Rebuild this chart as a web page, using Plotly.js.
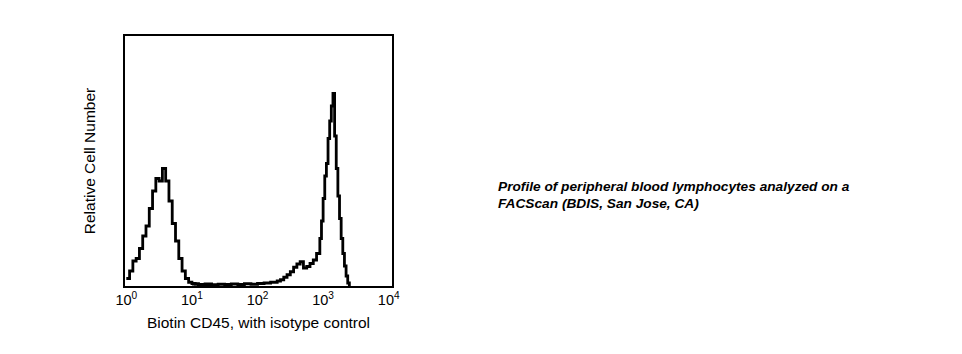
<!DOCTYPE html>
<html>
<head>
<meta charset="utf-8">
<script src="https://cdn.plot.ly/plotly-3.0.1.min.js"></script>
<style>html,body{margin:0;padding:0;background:#fff;}#chart{width:962px;height:354px;}</style>
</head>
<body>
<div id="chart"></div>
<script>
// log10 fluorescence channel positions and relative cell numbers
const isotypeLog = [0.00,0.05,0.10,0.15,0.20,0.25,0.30,0.35,0.40,0.45,0.50,0.55,0.60,0.65,0.70,0.75,0.80,0.85,0.90,0.95,1.00,1.05,1.10,1.15,1.20,1.25,1.30];
const isotypeCount = [0.03,0.06,0.10,0.11,0.15,0.20,0.24,0.31,0.38,0.43,0.42,0.47,0.42,0.34,0.25,0.18,0.11,0.06,0.03,0.015,0.01,0.008,0.006,0.005,0.004,0.003,0.0];

const cd45Log = [1.00,1.10,1.20,1.30,1.40,1.50,1.60,1.70,1.80,1.90,2.00,2.10,2.20,2.30,2.35,2.40,2.45,2.50,2.55,2.60,2.65,2.70,2.75,2.80,2.85,2.90,2.95,2.975,3.00,3.025,3.05,3.075,3.10,3.125,3.15,3.175,3.20,3.225,3.25,3.275,3.30,3.325,3.35,3.375,3.40];
const cd45Count = [0.008,0.006,0.008,0.005,0.007,0.006,0.008,0.006,0.009,0.007,0.010,0.012,0.015,0.020,0.025,0.035,0.045,0.057,0.075,0.088,0.097,0.072,0.078,0.090,0.104,0.130,0.190,0.260,0.350,0.440,0.490,0.590,0.660,0.720,0.770,0.600,0.470,0.360,0.270,0.190,0.130,0.080,0.040,0.012,0.0];

const tickVals = [0,1,2,3,4];
const tickText = ['10<sup>0</sup>','10<sup>1</sup>','10<sup>2</sup>','10<sup>3</sup>','10<sup>4</sup>'];

const font = 'Liberation Sans, Arial, sans-serif';

const traces = [
  {x: isotypeLog, y: isotypeCount, type:'scatter', mode:'lines', line:{shape:'hv', color:'#000', width:2.8}, hoverinfo:'none', name:'Isotype control'},
  {x: cd45Log, y: cd45Count, type:'scatter', mode:'lines', line:{shape:'hv', color:'#000', width:2.8}, hoverinfo:'none', name:'Biotin CD45'}
];

const layout = {
  width: 962, height: 354,
  margin: {l:125, r:570, t:36, b:68},
  paper_bgcolor:'#fff', plot_bgcolor:'#fff',
  showlegend:false,
  font:{family:font, color:'#000'},
  xaxis:{
    range:[-0.02,4.05], tickvals:tickVals, ticktext:tickText,
    showgrid:false, zeroline:false, showline:true, mirror:true, linecolor:'#000', linewidth:2,
    ticks:'', tickfont:{size:14.5, family:font, color:'#000'},
    title:{text:'Biotin CD45, with isotype control', font:{size:15.5, family:font, color:'#000'}, standoff:10}
  },
  yaxis:{
    range:[0,1], showticklabels:false, showgrid:false, zeroline:false,
    showline:true, mirror:true, linecolor:'#000', linewidth:2, ticks:'',
    title:{text:'Relative Cell Number', font:{size:15.5, family:font, color:'#000'}, standoff:24}
  },
  annotations:[
    {xref:'paper', yref:'paper', x:(496-125)/267, y:(286-186)/250, xanchor:'left', yanchor:'middle', showarrow:false,
     text:'<b><i>Profile of peripheral blood lymphocytes analyzed on a</i></b>', font:{size:13.7, family:font, color:'#000'}},
    {xref:'paper', yref:'paper', x:(496-125)/267, y:(286-204)/250, xanchor:'left', yanchor:'middle', showarrow:false,
     text:'<b><i>FACScan (BDIS, San Jose, CA)</i></b>', font:{size:13.7, family:font, color:'#000'}}
  ]
};

Plotly.newPlot('chart', traces, layout, {displayModeBar:false, staticPlot:true});
</script>
</body>
</html>
